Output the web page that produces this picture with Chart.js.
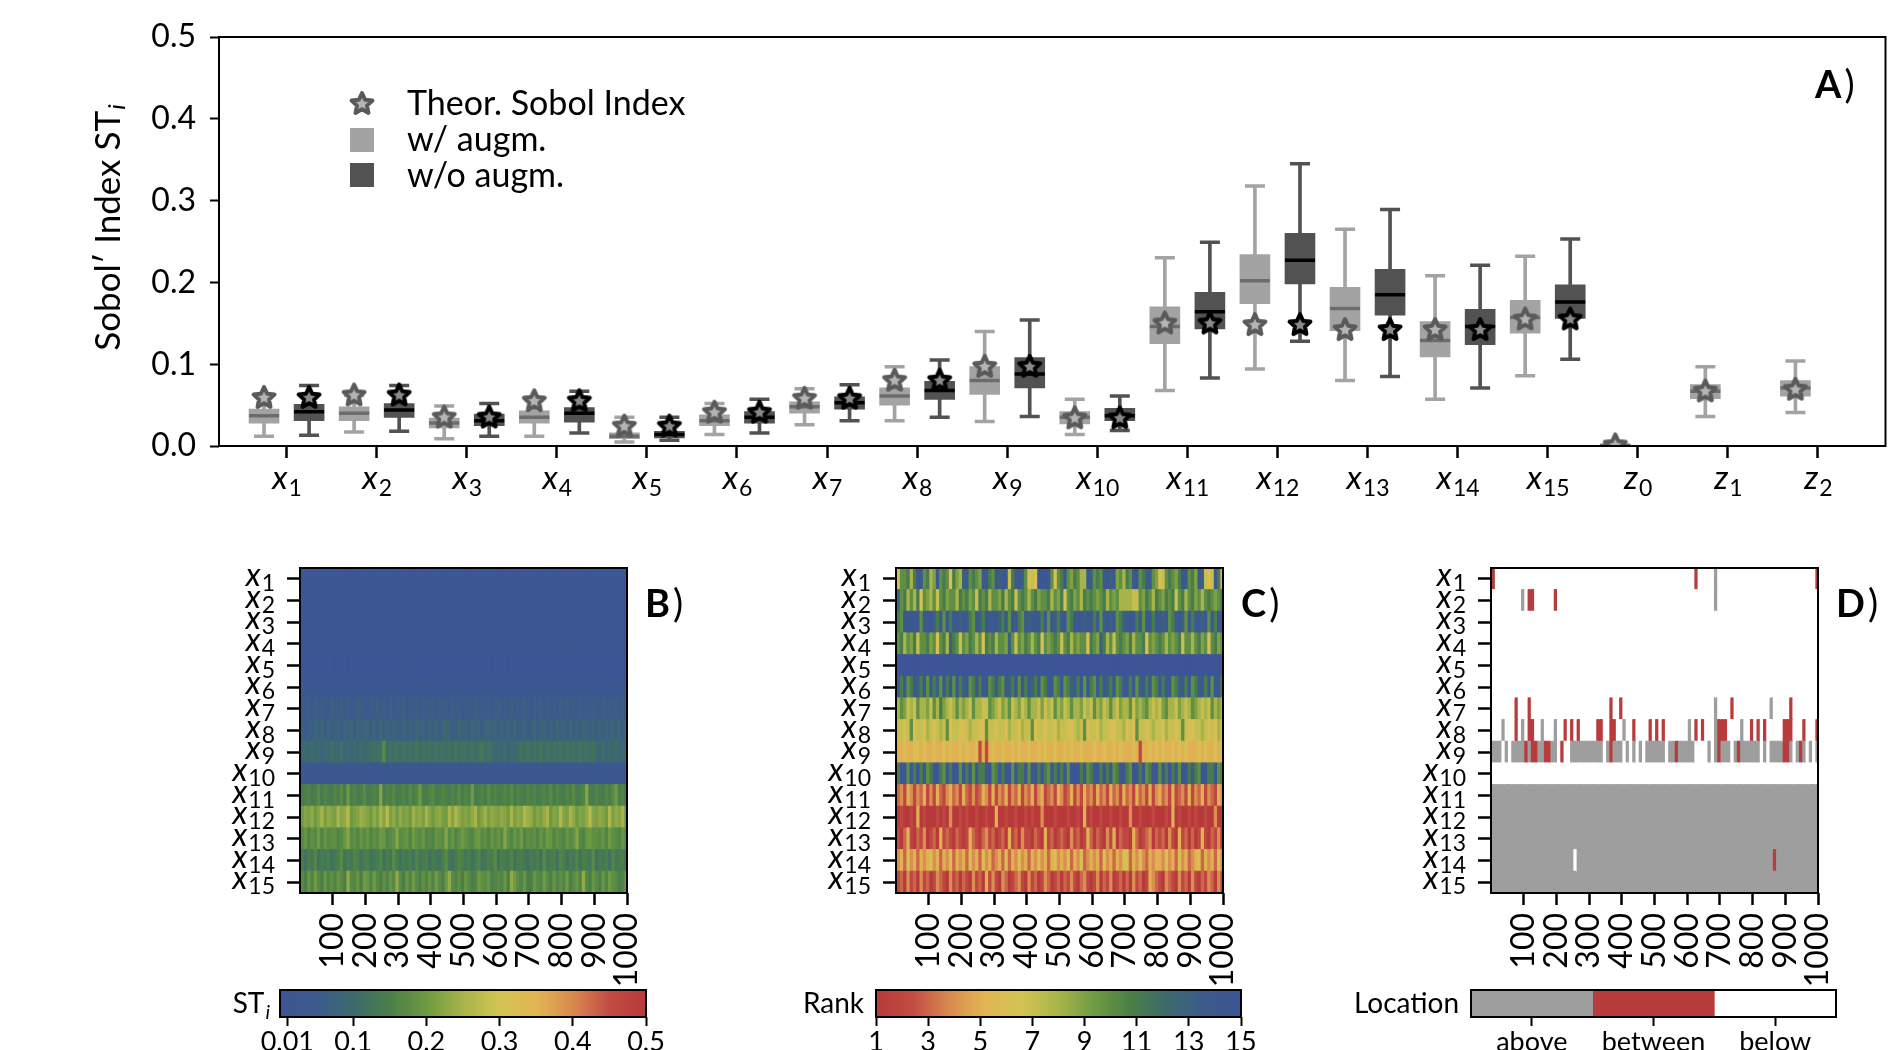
<!DOCTYPE html>
<html>
<head>
<meta charset="utf-8">
<script src="https://cdn.jsdelivr.net/npm/chart.js@4.4.0/dist/chart.umd.min.js"></script>
<style>
  body { margin: 0; background: #fff; width: 1904px; height: 1050px; position: relative; overflow: hidden; }
  canvas { position: absolute; }
</style>
</head>
<body>
<canvas id="boxA" style="left:0;top:0" width="1904" height="520"></canvas>
<canvas id="heatB" style="left:180px;top:550px" width="547" height="445"></canvas>
<canvas id="heatC" style="left:776px;top:550px" width="547" height="445"></canvas>
<canvas id="heatD" style="left:1371px;top:550px" width="547" height="445"></canvas>
<canvas id="barB" style="left:180px;top:975px" width="500" height="75"></canvas>
<canvas id="barC" style="left:776px;top:975px" width="500" height="75"></canvas>
<canvas id="barD" style="left:1340px;top:975px" width="564" height="75"></canvas>
<script>
// ---- data: panel A (Sobol' total indices)
const names = ['x1','x2','x3','x4','x5','x6','x7','x8','x9','x10','x11','x12','x13','x14','x15','z0','z1','z2'];
const yTicks = [0, 0.1, 0.2, 0.3, 0.4, 0.5];

// w/ augm. (light boxes)
const augLo  = [0.012,0.017,0.009,0.012,0.005,0.014,0.026,0.031,0.030,0.014,0.068,0.094,0.080,0.057,0.086,0.000,0.036,0.041];
const augQ1  = [0.028,0.031,0.022,0.028,0.009,0.025,0.040,0.050,0.063,0.027,0.125,0.174,0.141,0.109,0.138,0.000,0.058,0.061];
const augMed = [0.037,0.040,0.028,0.035,0.012,0.031,0.048,0.061,0.080,0.035,0.146,0.202,0.168,0.129,0.157,0.001,0.067,0.071];
const augQ3  = [0.045,0.048,0.034,0.043,0.016,0.038,0.054,0.071,0.097,0.042,0.170,0.234,0.194,0.152,0.178,0.002,0.075,0.080];
const augHi  = [0.061,0.062,0.049,0.058,0.035,0.052,0.070,0.097,0.140,0.057,0.230,0.318,0.265,0.208,0.232,0.004,0.097,0.104];

// w/o augm. (dark boxes), none for z
const rawLo  = [0.013,0.018,0.012,0.016,0.007,0.016,0.031,0.035,0.036,0.019,0.083,0.128,0.085,0.071,0.106,null,null,null];
const rawQ1  = [0.031,0.035,0.025,0.029,0.010,0.028,0.045,0.057,0.071,0.031,0.143,0.198,0.160,0.124,0.156,null,null,null];
const rawMed = [0.042,0.044,0.031,0.040,0.014,0.035,0.053,0.068,0.088,0.037,0.164,0.227,0.185,0.146,0.176,null,null,null];
const rawQ3  = [0.051,0.052,0.039,0.047,0.018,0.042,0.060,0.079,0.108,0.046,0.188,0.260,0.216,0.167,0.197,null,null,null];
const rawHi  = [0.074,0.074,0.052,0.067,0.035,0.057,0.075,0.105,0.154,0.061,0.249,0.345,0.289,0.221,0.253,null,null,null];

// theoretical Sobol index (stars)
const theor  = [0.060,0.063,0.036,0.056,0.025,0.042,0.059,0.081,0.098,0.035,0.151,0.149,0.143,0.143,0.156,0.002,0.068,0.070];

// ---- data: heatmaps (one char = 10 of the 1000 samples)
const heatNames = names.slice(0, 15);
const heatTicks = [100, 200, 300, 400, 500, 600, 700, 800, 900, 1000];

// B: ST_i in hundredths, base 36
const stRows = [
  '2121112111 1211121112 1112112111 2111121112 1121112121 1112111211 2111211121 1211121112 1121112111 2111211121',
  '2221212221 2122212212 2212221222 1222122212 2212221221 2221222122 1222122212 2212221222 2122212212 2221222122',
  '1212121112 2112121211 1211212112 2121121211 1212112121 2112121211 1211212112 2121121211 1212112121 2112121211',
  '2222322232 2322232223 2223222322 3222322232 2322232223 2232223222 3222322232 2322232223 2223222322 3222322232',
  '1101110111 0111011101 1110111011 0111101110 1101110111 0111011101 1110111011 0111101110 1101110111 0111011101',
  '2323233232 3232323323 2332323232 3232332323 2323233232 3232323323 2332323232 3232332323 2323233232 3232323323',
  '5464756547 6574645765 4657564746 5746574656 6475647564 5647465746 7564746575 4657564647 5746475656 6475657465',
  '6576879687 7868796978 8796a78687 6878797868 7968a86797 8697868978 6878796786 7968878697 8697869878 6878797968',
  '9a8b9a8a9b a9b8a9a8b9 abcbchbcbc bcbcbdbcbc bcbcbcbdbc cbcbcdbcb9 a9b8a9bcbc bcbdbcbcbc bcbcbdbcbc a9b8a9b8a9',
  '3323332333 2333233323 3332333233 3233323332 3332333233 2333233323 3323332333 3233323332 3332333233 2333233323',
  'efgefhegfe gfhekfgefh efgfmegfhe fgehfgkfeg hefgfegfhe gfkefgehfg efgfhegfeg fgefgfhegf egfhefgmfe gfegfhkfge',
  'kmlnkmplnm lpmnrklmon mknlpmrlnk nlmkomnlpm kmnlkpmqnl mlnpkmolnm lnmkplnmqo nkmlnpkmlq mlpnkmlnrm lnmkqlnmpk',
  'hjgihkgjhi ighjmhigjh jgihkjghim hijgkihjgh gjihmhjgik ihgjkhigjh jhmigjhkgi higjhkjgih gjhimhgjki ihjgkihgjh',
  'ecfdgcedfc dfhcedgfce fcdegcfdhe cedfcgdefc edcfhdcegf dfcegcdfeh cfedgcefdc edfchdefcg fcedgcfedh cedfcgdefc',
  'hfjgkhfjgi gjhfnhgjfk jgkhfigjhn hfjgkhfigj gkhfjnhgif jhfgkihjfg hgjfnkhgjf fjhgkhfjgi gkfhjgnhfj hfjgkihfgj'
].map(s => s.replace(/ /g, ''));

// C: rank 1..15 in hex
const rankRows = [
  '6aab8beeab 89eaba6b98 deaba9eeba edee7beeda 676fefea6a bea9ba88ed abaeede9a8 baeeabdea9 67aba9beea b9ed767eb5',
  'dab8a8b6a9 8a7ab9aa8b ab9a7bab8a a9b8ab7aba 8ab9aab8a9 b6ab9a8bab a9ab8a9a88 8877a9ba8b a9bab7ab8a b9a8aba9ab',
  'baeeeeeaee fdbeaebeed eebaedbeee edbeaeebae deeebeaedb eeabeeedee beaeedeabd eeebeaeebe edeabeedae beedeaebee',
  'ab8a9b7aab 9a6ab8dba7 a9ba8a6bab 8aa9da7a9b a8ab6a9aba 7ab8a9aa6b a9db8a7aba 9b8aab6a9a ba8a9ab7aa 8ab9a6ab9a',
  'ffffffffff ffffffffff ffffffffff ffffffffff ffffffefff ffffffffff ffffffffff ffffffffff ffffffffff ffffffffff',
  'ebeabedbea ebdaebeaeb deabebeeab ebaedbeaeb edbeabeeab eabdebeaeb aebedbeabe ebeadebeab ebeeabdebe abeebeaeeb',
  '8a9787a889 7a8b9878a8 987a8877a9 8798a78978 a8879787a8 978a889787 a8978a8798 8a7989a878 79a8879878 a98787a898',
  '7767a67768 76787a6776 6787766a77 6776877687 7a67767768 7766787a67 7687766778 676a776787 7687767a76 6778767687',
  '5565566565 5655656556 5655625256 5565565655 6556565565 5656556555 6556556565 5565255656 5655656565 5565655656',
  'bfeaebfbea befbaebfea ebfaebbefa bebefaebbf aeebfbaebe bfaeffbeab efbfbeabfe bafebeabfe aebfbeafeb ebafebbeab',
  '3425424352 4253245342 5324235425 2435243524 3524523425 4235242534 2534253425 3425342524 5342523425 2435243254',
  '1211215121 1121214112 1211211211 5112112112 1211411121 1121121512 1121121121 1411211121 1121512112 1211211411',
  '2135213241 2315232132 1253213423 1231523142 2132152312 3214231253 1321425132 2153123413 2314215231 3125213241',
  '4536453545 6453546354 5364536453 4536354645 3546453564 5463546345 4536453546 6354643545 5464536453 4563545364',
  '2314231423 1243214231 3214231524 2143123421 4231243123 1324213421 2413241231 3142312543 2143214231 4213243142'
].map(s => s.replace(/ /g, ''));

// D: location, run-length (a = above, b = between, w = below)
const locRuns = [
  'b1 w61 b1 w5 a1 w30 b1',
  'w9 a1 w1 b2 w6 b1 w48 a1 w31',
  'w100', 'w100', 'w100', 'w100',
  'w7 b1 w3 b1 w24 b1 w2 b1 w28 a1 w4 b1 w11 a1 w5 b1 w8',
  'w3 a1 w3 b1 w1 a1 w1 b2 w2 a1 w3 a1 w2 b1 w1 b1 w1 b1 w5 b2 w2 b2 w2 a1 w2 b1 w4 b1 w1 b1 w1 b1 w7 a1 w1 b1 w1 b1 w3 a1 b3 w4 a1 w2 b1 w1 b1 w1 b1 w5 b3 w3 b1 w3 b1',
  'a3 w1 a1 w1 a4 b1 a1 b2 a2 b2 a2 w1 b1 w2 a10 w1 a1 b1 a3 w1 a1 w1 a1 w1 a1 w1 a6 w1 a2 b1 a5 w4 a1 w1 a1 b1 a3 w1 a1 b1 a6 w1 a1 w1 a4 b2 a1 w1 a1 b1 a1 w1 a1 w1 a1',
  'w100',
  'a100', 'a100', 'a100',
  'a25 w1 a60 b1 a13',
  'a100'
];
const locRows = locRuns.map(s => s.split(' ').map(t => t[0].repeat(+t.slice(1))).join(''));

// colour bars
const stBarTicks = [0.01, 0.1, 0.2, 0.3, 0.4, 0.5];
const rankBarTicks = [1, 3, 5, 7, 9, 11, 13, 15];
const locLabels = ['above', 'between', 'below'];

// ---- styling
const FONT = 'Lato, "Open Sans", sans-serif';
Chart.defaults.font.family = FONT;
Chart.defaults.color = '#000';
Chart.defaults.animation = false;
Chart.defaults.plugins.legend.display = false;
Chart.defaults.plugins.tooltip.enabled = false;

const LIGHT = '#a3a3a3', LIGHT_MED = '#6c6c6c', DARK = '#525252', DARK_MED = '#000000';
const OFF = 0.25;

// blue -> green -> yellow -> red
const CMAP = [
  [0.00, 61, 85, 150], [0.10, 60, 90, 140], [0.20, 60, 106, 110], [0.30, 74, 127, 72],
  [0.40, 110, 154, 66], [0.50, 168, 180, 74], [0.60, 210, 196, 82], [0.70, 226, 182, 84],
  [0.80, 217, 137, 79], [0.90, 194, 76, 68], [1.00, 184, 57, 58]
];
function cmap(t) {
  t = Math.max(0, Math.min(1, t));
  for (let k = 1; k < CMAP.length; k++) {
    if (t <= CMAP[k][0]) {
      const a = CMAP[k - 1], b = CMAP[k], f = (t - a[0]) / (b[0] - a[0]);
      return 'rgb(' + [1, 2, 3].map(j => Math.round(a[j] + f * (b[j] - a[j]))).join(',') + ')';
    }
  }
  return 'rgb(184,57,58)';
}
const LOC_COL = {a: '#9e9e9e', b: '#b83c3c', w: '#ffffff'};

function starImg(r, fill, stroke, lw) {
  const c = document.createElement('canvas');
  const s = Math.ceil(2 * r + lw + 2);
  c.width = c.height = s;
  const g = c.getContext('2d');
  g.translate(s / 2, s / 2 + 1);
  g.beginPath();
  for (let k = 0; k < 10; k++) {
    const rr = k % 2 ? r * 0.48 : r;
    const ang = -Math.PI / 2 + k * Math.PI / 5;
    g.lineTo(rr * Math.cos(ang), rr * Math.sin(ang));
  }
  g.closePath();
  g.fillStyle = fill; g.fill();
  g.lineWidth = lw; g.lineJoin = 'round'; g.strokeStyle = stroke; g.stroke();
  return c;
}
const starLight = starImg(11, '#b5b5b5', '#5a5a5a', 4);
const starDark = starImg(11, '#8a8a8a', '#000000', 4);

// x + subscript text
function subText(ctx, base, sub, x, y, align, bs, ss, drop) {
  ctx.textAlign = 'left'; ctx.textBaseline = 'alphabetic';
  ctx.font = 'italic ' + bs + 'px ' + FONT;
  const w1 = ctx.measureText(base).width;
  ctx.font = ss + 'px ' + FONT;
  const w2 = ctx.measureText(sub).width;
  const x0 = align === 'center' ? x - (w1 + w2) / 2 : x - (w1 + w2);
  ctx.font = 'italic ' + bs + 'px ' + FONT;
  ctx.fillText(base, x0, y);
  ctx.font = ss + 'px ' + FONT;
  ctx.fillText(sub, x0 + w1 + 1, y + drop);
}
function panelTag(ctx, letter, x, y) {
  ctx.textAlign = 'left'; ctx.textBaseline = 'alphabetic';
  ctx.font = 'bold 38px ' + FONT;
  ctx.fillText(letter, x, y);
  const w = ctx.measureText(letter).width;
  ctx.font = '38px ' + FONT;
  ctx.fillText(')', x + w + 3, y);
}

// ---- panel A
function pts(vals, off) {
  return vals.map((v, i) => v == null ? null : {x: i + off, y: v}).filter(p => p);
}
function ranges(lo, hi, off) {
  return lo.map((v, i) => v == null ? null : {x: i + off, y: [v, hi[i]]}).filter(p => p);
}
const barBase = {type: 'bar', grouped: false, barPercentage: 1, categoryPercentage: 1, borderWidth: 0};

const panelA = {
  id: 'panelA',
  afterDraw(chart) {
    const {ctx, chartArea: a, scales: {x}} = chart;
    ctx.save();
    ctx.strokeStyle = '#000'; ctx.lineWidth = 2;
    ctx.strokeRect(a.left, a.top, a.right - a.left, a.bottom - a.top);
    ctx.fillStyle = '#000';
    names.forEach((n, i) => subText(ctx, n[0], n.slice(1), x.getPixelForValue(i), a.bottom + 43, 'center', 33, 23, 7));

    // y axis title
    ctx.save();
    ctx.translate(109, 228);
    ctx.rotate(-Math.PI / 2);
    const t1 = 'Sobol\u2032 Index ST';
    ctx.font = '35px ' + FONT;
    const w1 = ctx.measureText(t1).width;
    ctx.font = 'italic 24px ' + FONT;
    const w2 = ctx.measureText('i').width;
    ctx.textBaseline = 'middle'; ctx.textAlign = 'left';
    ctx.font = '35px ' + FONT;
    ctx.fillText(t1, -(w1 + w2) / 2, 0);
    ctx.font = 'italic 24px ' + FONT;
    ctx.fillText('i', -(w1 + w2) / 2 + w1 + 1, 8);
    ctx.restore();

    // legend
    ctx.drawImage(starLight, 362 - starLight.width / 2, 103 - starLight.height / 2);
    ctx.fillStyle = LIGHT; ctx.fillRect(350, 128, 24, 24);
    ctx.fillStyle = DARK; ctx.fillRect(350, 163, 24, 24);
    ctx.fillStyle = '#000';
    ctx.font = '34px ' + FONT; ctx.textBaseline = 'middle'; ctx.textAlign = 'left';
    ctx.fillText('Theor. Sobol Index', 407, 104);
    ctx.fillText('w/ augm.', 407, 140);
    ctx.fillText('w/o augm.', 407, 176);

    panelTag(ctx, 'A', 1815, 98);
    ctx.restore();
  }
};

new Chart(document.getElementById('boxA'), {
  type: 'bar',
  data: {
    datasets: [
      Object.assign({}, barBase, {data: ranges(augLo, augHi, -OFF), backgroundColor: LIGHT, maxBarThickness: 3, order: 10}),
      Object.assign({}, barBase, {data: ranges(rawLo, rawHi, OFF), backgroundColor: DARK, maxBarThickness: 3, order: 10}),
      Object.assign({}, barBase, {data: ranges(augQ1, augQ3, -OFF), backgroundColor: LIGHT, maxBarThickness: 30, order: 9}),
      Object.assign({}, barBase, {data: ranges(rawQ1, rawQ3, OFF), backgroundColor: DARK, maxBarThickness: 30, order: 9}),
      {type: 'scatter', data: pts(augLo, -OFF).concat(pts(augHi, -OFF)), pointStyle: 'line', pointRadius: 10, borderColor: LIGHT, borderWidth: 3.5, order: 8},
      {type: 'scatter', data: pts(rawLo, OFF).concat(pts(rawHi, OFF)), pointStyle: 'line', pointRadius: 10, borderColor: DARK, borderWidth: 3.5, order: 8},
      {type: 'scatter', data: pts(augMed, -OFF), pointStyle: 'line', pointRadius: 15, borderColor: LIGHT_MED, borderWidth: 3.5, order: 7},
      {type: 'scatter', data: pts(rawMed, OFF), pointStyle: 'line', pointRadius: 15, borderColor: DARK_MED, borderWidth: 3.5, order: 7},
      {type: 'scatter', data: pts(theor, -OFF), pointStyle: starLight, pointRadius: 11, order: 2},
      {type: 'scatter', data: pts(theor.map((v, i) => rawMed[i] == null ? null : v), OFF), pointStyle: starDark, pointRadius: 11, order: 1}
    ]
  },
  options: {
    responsive: false,
    layout: {padding: {left: 0, top: 37, right: 7, bottom: 0}},
    scales: {
      x: {
        type: 'linear', min: -0.75, max: 17.75, offset: false,
        afterBuildTicks: s => { s.ticks = names.map((_, i) => ({value: i})); },
        afterFit: s => { s.height = 74; },
        ticks: {callback: () => '', autoSkip: false, maxRotation: 0},
        grid: {drawOnChartArea: false, offset: false, tickLength: 12, tickWidth: 2.5, tickColor: '#000'},
        border: {display: false}
      },
      y: {
        min: 0, max: 0.5,
        afterBuildTicks: s => { s.ticks = yTicks.map(v => ({value: v})); },
        afterFit: s => { s.width = 219; },
        ticks: {callback: v => v.toFixed(1), font: {size: 32}, padding: 14},
        grid: {drawOnChartArea: false, tickLength: 9, tickWidth: 2, tickColor: '#000'},
        border: {display: false}
      }
    }
  },
  plugins: [panelA]
});

// ---- heatmaps
function heatmap(id, rows, colorOf, tag) {
  const nCols = Math.max(...rows.map(r => r.length));
  const datasets = [];
  for (let c = 0; c < nCols; c++) {
    datasets.push({
      data: rows.map(r => c < r.length ? 1000 / r.length : 0),
      backgroundColor: ctx => {
        const ch = rows[ctx.dataIndex] ? rows[ctx.dataIndex][c] : undefined;
        return ch === undefined ? 'transparent' : colorOf(ch);
      },
      borderWidth: 0, inflateAmount: 0.6, barPercentage: 1, categoryPercentage: 1
    });
  }
  return new Chart(document.getElementById(id), {
    type: 'bar',
    data: {labels: heatNames, datasets},
    options: {
      responsive: false,
      indexAxis: 'y',
      layout: {padding: {left: 0, top: 18, right: 100, bottom: 0}},
      scales: {
        x: {
          type: 'linear', min: 0, max: 1000, stacked: true, offset: false,
          afterBuildTicks: s => { s.ticks = heatTicks.map(v => ({value: v})); },
          afterFit: s => { s.height = 102; },
          ticks: {callback: v => String(v), font: {size: 32}, minRotation: 90, maxRotation: 90, padding: 8, autoSkip: false},
          grid: {drawOnChartArea: false, offset: false, tickLength: 12, tickWidth: 2.5, tickColor: '#000'},
          border: {display: false}
        },
        y: {
          type: 'category', stacked: true,
          afterFit: s => { s.width = 120; },
          ticks: {callback: () => '', autoSkip: false},
          grid: {drawOnChartArea: false, offset: false, tickLength: 13, tickWidth: 2.5, tickColor: '#000'},
          border: {display: false}
        }
      }
    },
    plugins: [{
      id: 'heatDeco',
      afterDraw(chart) {
        const {ctx, chartArea: a, scales: {y}} = chart;
        ctx.save();
        ctx.strokeStyle = '#000'; ctx.lineWidth = 2;
        ctx.strokeRect(a.left, a.top, a.right - a.left, a.bottom - a.top);
        ctx.fillStyle = '#000';
        heatNames.forEach((n, i) => subText(ctx, n[0], n.slice(1), a.left - 26, y.getPixelForValue(i) + 7, 'right', 32, 23, 5));
        panelTag(ctx, tag, a.right + 18, a.top + 49);
        ctx.restore();
      }
    }]
  });
}

heatmap('heatB', stRows, ch => cmap(parseInt(ch, 36) / 100 / 0.5), 'B');
heatmap('heatC', rankRows, ch => cmap((15 - parseInt(ch, 16)) / 14), 'C');
heatmap('heatD', locRows, ch => LOC_COL[ch], 'D');

// ---- colour bars
function gradFill(reverse) {
  return c => {
    const a = c.chart.chartArea;
    if (!a) return 'transparent';
    const g = c.chart.ctx.createLinearGradient(a.left, 0, a.right, 0);
    const stops = CMAP.map(s => [reverse ? 1 - s[0] : s[0], 'rgb(' + s[1] + ',' + s[2] + ',' + s[3] + ')']);
    stops.sort((p, q) => p[0] - q[0]).forEach(s => g.addColorStop(s[0], s[1]));
    return g;
  };
}

function colorbar(id, cfg) {
  return new Chart(document.getElementById(id), {
    type: 'bar',
    data: {
      labels: [''],
      datasets: cfg.datasets.map(d => Object.assign({grouped: false, barPercentage: 1, categoryPercentage: 1, borderWidth: 0}, d))
    },
    options: {
      responsive: false,
      indexAxis: 'y',
      layout: {padding: {left: cfg.padL, right: cfg.padR, top: 15, bottom: 0}},
      scales: {
        x: {
          type: 'linear', min: cfg.min, max: cfg.max, offset: false,
          afterBuildTicks: s => { s.ticks = cfg.ticks.map(v => ({value: v})); },
          afterFit: s => { s.height = 33; },
          ticks: {callback: (v, i) => cfg.tickText[i], font: {size: 27}, padding: 0, maxRotation: 0, autoSkip: false},
          grid: {drawOnChartArea: false, offset: false, tickLength: 9, tickWidth: 2, tickColor: '#000'},
          border: {display: false}
        },
        y: {display: false}
      }
    },
    plugins: [{
      id: 'cbDeco',
      afterDraw(chart) {
        const {ctx, chartArea: a} = chart;
        ctx.save();
        ctx.strokeStyle = '#000'; ctx.lineWidth = 2;
        ctx.strokeRect(a.left, a.top, a.right - a.left, a.bottom - a.top);
        ctx.fillStyle = '#000';
        ctx.textBaseline = 'alphabetic';
        if (cfg.title === 'ST') {
          ctx.font = 'italic 20px ' + FONT;
          const wi = ctx.measureText('i').width;
          ctx.font = '28px ' + FONT;
          const ws = ctx.measureText('ST').width;
          ctx.textAlign = 'left';
          ctx.fillText('ST', a.left - 10 - wi - ws - 1, a.top + 23);
          ctx.font = 'italic 20px ' + FONT;
          ctx.fillText('i', a.left - 10 - wi, a.top + 29);
        } else {
          ctx.font = '28px ' + FONT; ctx.textAlign = 'right';
          ctx.fillText(cfg.title, a.left - 12, a.top + 23);
        }
        ctx.restore();
      }
    }]
  });
}

colorbar('barB', {
  min: 0, max: 0.5, padL: 100, padR: 34, title: 'ST',
  ticks: stBarTicks, tickText: stBarTicks.map(String),
  datasets: [{data: [[0, 0.5]], backgroundColor: gradFill(false)}]
});
colorbar('barC', {
  min: 1, max: 15, padL: 100, padR: 35, title: 'Rank',
  ticks: rankBarTicks, tickText: rankBarTicks.map(String),
  datasets: [{data: [[1, 15]], backgroundColor: gradFill(true)}]
});
colorbar('barD', {
  min: 0, max: 3, padL: 131, padR: 68, title: 'Location',
  ticks: [0.5, 1.5, 2.5], tickText: locLabels,
  datasets: [
    {data: [[0, 1]], backgroundColor: LOC_COL.a},
    {data: [[1, 2]], backgroundColor: LOC_COL.b},
    {data: [[2, 3]], backgroundColor: LOC_COL.w}
  ]
});
</script>
</body>
</html>
